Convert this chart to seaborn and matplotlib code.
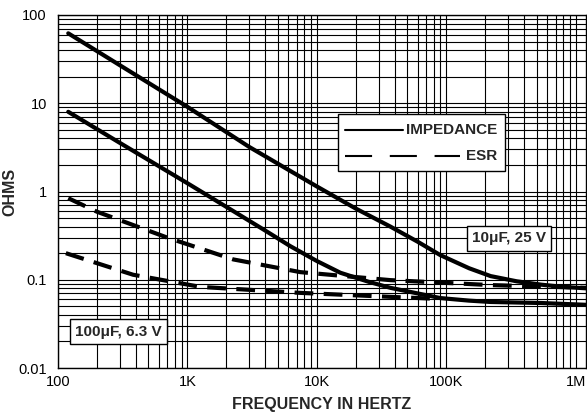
import matplotlib
matplotlib.use("Agg")
import matplotlib.pyplot as plt
from matplotlib.ticker import FixedLocator, FixedFormatter, LogLocator, NullFormatter
import seaborn as sns
import pandas as pd

# impedance / ESR
freq_z10 = [120, 300, 1000, 3000, 10000, 20000, 37000, 60000, 90000, 150000,
            220000, 350000, 540000, 800000, 1.2e6]
imp_10uf = [62, 27, 9.1, 3.2, 1.14, 0.64, 0.40, 0.27, 0.19, 0.135,
            0.11, 0.096, 0.088, 0.083, 0.080]

freq_z100 = [120, 300, 1000, 2140, 4000, 6240, 10000, 15200, 25000, 37000,
             60000, 90000, 150000, 220000, 540000, 1.2e6]
imp_100uf = [8.0, 3.56, 1.24, 0.63, 0.36, 0.24, 0.163, 0.12, 0.095, 0.081,
             0.070, 0.062, 0.058, 0.056, 0.0545, 0.052]

freq_esr10 = [120, 200, 700, 2260, 7450, 37000, 220000, 1.2e6]
esr_10uf = [0.84, 0.59, 0.30, 0.17, 0.122, 0.099, 0.087, 0.081]

freq_esr100 = [115, 380, 1260, 7450, 37000, 80000]
esr_100uf = [0.20, 0.114, 0.083, 0.071, 0.064, 0.061]

x_ticks = [100, 1e3, 1e4, 1e5, 1e6]
x_labels = ["100", "1K", "10K", "100K", "1M"]
y_ticks = [0.01, 0.1, 1, 10, 100]
y_labels = ["0.01", "0.1", "1", "10", "100"]

sns.set_style("white")
plt.rcParams["font.family"] = ["Liberation Sans", "DejaVu Sans"]

fig = plt.figure(figsize=(5.87, 4.16), dpi=100)
ax = fig.add_axes([58 / 587, 1 - 368 / 416, 528 / 587, 353 / 416])
ax.set_xscale("log")
ax.set_yscale("log")

dash = (0, (4.5, 2.5))
sns.lineplot(x=freq_z10, y=imp_10uf, ax=ax, color="black", lw=3, legend=False)
sns.lineplot(x=freq_z100, y=imp_100uf, ax=ax, color="black", lw=3, legend=False)
sns.lineplot(x=freq_esr10, y=esr_10uf, ax=ax, color="black", lw=3, linestyle=dash, legend=False)
sns.lineplot(x=freq_esr100, y=esr_100uf, ax=ax, color="black", lw=3, linestyle=dash, legend=False)

ax.set_xlim(100, 1.2e6)
ax.set_ylim(0.01, 100)

ax.xaxis.set_major_locator(FixedLocator(x_ticks))
ax.xaxis.set_major_formatter(FixedFormatter(x_labels))
ax.yaxis.set_major_locator(FixedLocator(y_ticks))
ax.yaxis.set_major_formatter(FixedFormatter(y_labels))
ax.xaxis.set_minor_locator(LogLocator(base=10, subs=range(2, 10)))
ax.yaxis.set_minor_locator(LogLocator(base=10, subs=range(2, 10)))
ax.xaxis.set_minor_formatter(NullFormatter())
ax.yaxis.set_minor_formatter(NullFormatter())
ax.tick_params(which="both", length=0, labelsize=10.5, colors="black")
ax.tick_params(axis="y", pad=8)
ax.tick_params(axis="x", pad=5)
ax.grid(True, which="both", color="black", lw=0.8)
ax.set_axisbelow(True)
for s in ax.spines.values():
    s.set_color("black")
    s.set_linewidth(1)

ax.set_xlabel("FREQUENCY IN HERTZ", fontsize=11.5, fontweight="bold", labelpad=6)
ax.set_ylabel("OHMS", fontsize=11.5, fontweight="bold")
ax.yaxis.set_label_coords(-0.076, 0.5)

# legend box drawn by hand (text right aligned as in the datasheet)
tr = ax.transAxes
ax.add_patch(plt.Rectangle((0.530, 0.558), 0.317, 0.162, transform=tr,
                           fc="white", ec="black", lw=1, zorder=5))
ax.plot([0.544, 0.653], [0.674, 0.674], transform=tr, color="black", lw=1.5, zorder=6)
ax.plot([0.544, 0.761], [0.600, 0.600], transform=tr, color="black", lw=1.5,
        linestyle=(0, (13, 8.5)), zorder=6)
ax.text(0.831, 0.674, "IMPEDANCE", transform=tr, ha="right", va="center",
        fontsize=11, fontweight="bold", zorder=7)
ax.text(0.831, 0.600, "ESR", transform=tr, ha="right", va="center",
        fontsize=11, fontweight="bold", zorder=7)

box = dict(boxstyle="square,pad=0.35", fc="white", ec="black", lw=1)
ax.text(0.854, 0.367, "10\u03bcF, 25 V", transform=tr, ha="center", va="center",
        fontsize=11, fontweight="bold", bbox=box, zorder=7)
ax.text(0.115, 0.103, "100\u03bcF, 6.3 V", transform=tr, ha="center", va="center",
        fontsize=11, fontweight="bold", bbox=box, zorder=7)

fig.savefig("out.png", dpi=100)
